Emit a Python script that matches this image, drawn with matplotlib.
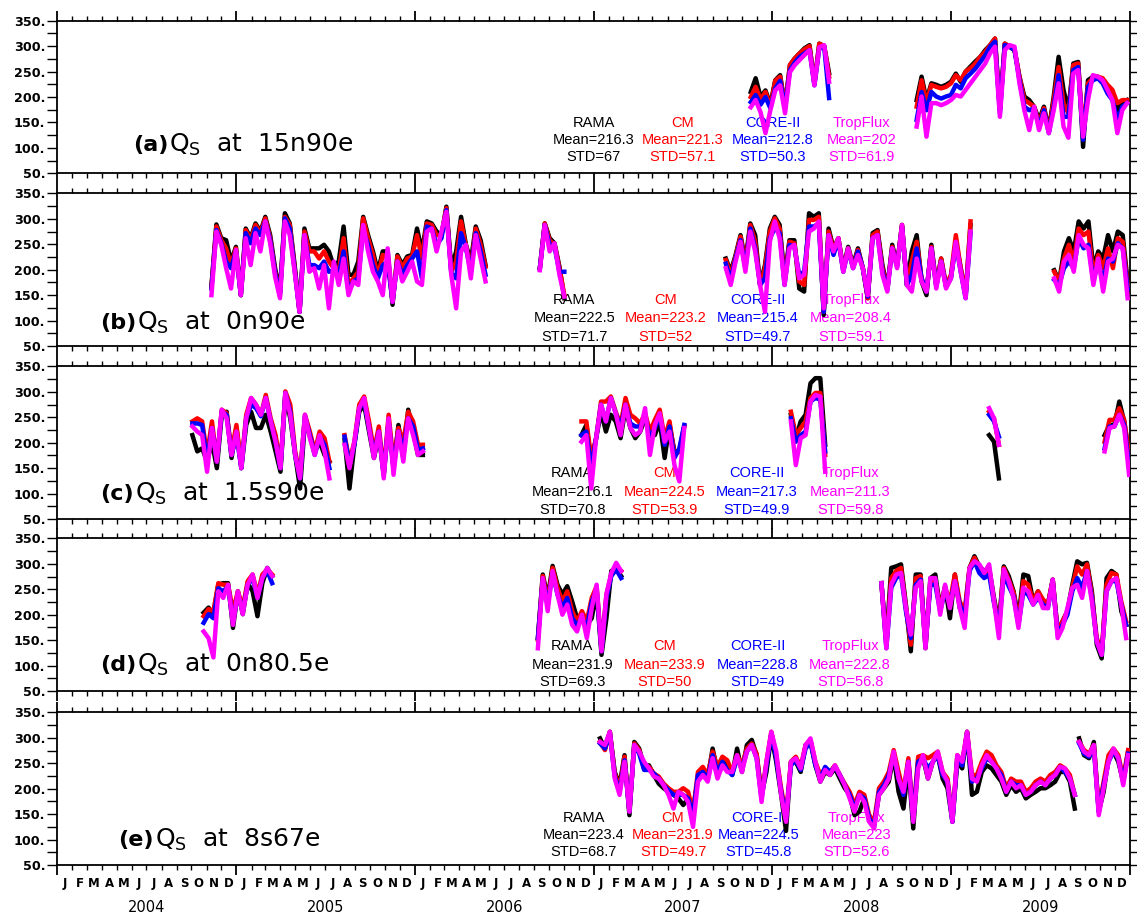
import matplotlib
matplotlib.use('Agg')
import matplotlib.pyplot as plt
import matplotlib.dates as mdates
from matplotlib.ticker import FixedLocator, FuncFormatter
import pandas as pd

# ---- data (10-day samples, W m-2) ----
SERIES = ['RAMA', 'CM', 'CORE-II', 'TropFlux']
COLORS = ['black', 'red', 'blue', 'magenta']

# (a) 15n90e
A1_START = '2007-11-18'
A1_RAMA = [210, 237, 200, 213, 185, 233, 243, 181, 263, 276, 286, 296, 302, 227, 305, 300, 247]
A1_CM = [200, 220, 195, 210, 180, 232, 240, 181, 263, 276, 286, 294, 300, 227, 305, 300, 240]
A1_CORE = [190, 204, 185, 200, 178, 217, 232, 178, 253, 268, 279, 286, 292, 223, 296, 299, 198]
A1_TROP = [180, 194, 170, 129, 174, 213, 223, 168, 249, 263, 273, 283, 292, 223, 298, 302, 230]
A2_START = '2008-10-22'
A2_RAMA = [194, 240, 194, 227, 224, 220, 224, 230, 246, 230, 250, 260, 270, 279, 292, 302, 315, 174, 305, 299, 292, 240,
           201, 194, 181, 155, 181, 135, 201, 279, 214, 174, 266, 269, 102, 233, 240, 240, 233, 220, 207, 174, 188, 194]
A2_CM = [181, 233, 188, 224, 220, 217, 220, 227, 243, 233, 250, 257, 266, 279, 289, 302, 315, 174, 305, 299, 292, 240,
         194, 188, 181, 148, 178, 132, 194, 259, 188, 168, 263, 266, 129, 227, 237, 240, 237, 224, 214, 188, 194, 194]
A2_CORE = [155, 210, 174, 210, 201, 197, 201, 204, 224, 217, 237, 246, 256, 269, 282, 299, 309, 168, 302, 299, 292, 233,
           181, 174, 178, 142, 174, 129, 181, 243, 161, 161, 253, 259, 116, 220, 233, 237, 227, 207, 194, 155, 181, 188]
A2_TROP = [142, 201, 122, 188, 188, 184, 188, 194, 204, 201, 214, 227, 240, 253, 266, 286, 299, 161, 292, 302, 299, 227,
           174, 135, 181, 135, 168, 129, 174, 227, 142, 120, 246, 253, 122, 194, 243, 240, 233, 214, 194, 129, 174, 188]
A_MEAN = [216.3, 221.3, 212.8, 202]
A_STD = [67, 57.1, 50.3, 61.9]

# (b) 0n90e
B1_START = '2004-11-11'
B1_RAMA = [167, 289, 262, 258, 216, 245, 150, 281, 262, 291, 275, 304, 268, 203, 157, 311, 291, 209, 117, 281, 242, 242,
           242, 249, 236, 206, 216, 285, 190, 190, 216, 304, 268, 236, 196, 236, 236, 131, 229, 209, 226, 229, 281, 236,
           295, 291, 275, 268, 324, 203, 236, 304, 249, 216, 285, 258, 209]
B1_CM = [167, 285, 258, 242, 209, 242, 150, 278, 258, 288, 272, 301, 262, 196, 153, 304, 288, 203, 117, 275, 236, 236,
         222, 236, 216, 203, 196, 262, 170, 183, 196, 301, 262, 229, 186, 229, 222, 137, 226, 203, 222, 226, 268, 222,
         291, 288, 268, 268, 321, 196, 216, 295, 245, 203, 281, 249, 206]
B1_CORE = [163, 278, 252, 216, 203, 236, 150, 272, 252, 281, 268, 295, 258, 193, 150, 301, 281, 199, 117, 268, 209, 209,
           203, 216, 196, 199, 190, 236, 157, 177, 183, 278, 249, 209, 183, 209, 216, 137, 216, 190, 209, 222, 236, 183,
           285, 281, 249, 262, 317, 193, 183, 272, 242, 196, 272, 236, 190]
B1_TROP = [150, 275, 249, 203, 163, 239, 150, 262, 209, 272, 236, 295, 252, 186, 144, 295, 268, 196, 117, 268, 196, 203,
           163, 209, 124, 216, 170, 222, 150, 177, 170, 288, 236, 196, 177, 150, 242, 137, 216, 177, 196, 216, 177, 170,
           275, 281, 236, 275, 314, 190, 124, 236, 249, 183, 268, 222, 177]
B2_START = '2006-09-13'
B2_RAMA = [203, 291, 262, 252, 206, 144]
B2_CM = [203, 291, 258, 249, 203, 150]
B2_CORE = [203, 288, 249, 245, 196, 196]
B2_TROP = [199, 288, 236, 252, 190, 147]
B3_START = '2007-09-28'
B3_RAMA = [222, 196, 229, 268, 216, 291, 268, 170, 209, 281, 304, 288, 183, 258, 258, 163, 157, 311, 304, 311, 111, 281,
           242, 262, 203, 245, 209, 242, 203, 144, 272, 278, 209, 163, 249, 209, 288, 170, 236, 268, 177, 150, 249, 170,
           222, 167, 186, 255, 203, 150, 288]
B3_CM = [219, 190, 226, 265, 212, 288, 255, 170, 203, 275, 301, 281, 177, 255, 252, 177, 170, 298, 298, 304, 117, 275,
         239, 262, 199, 242, 206, 239, 203, 144, 268, 275, 203, 163, 245, 209, 288, 170, 216, 255, 183, 157, 245, 170,
         222, 170, 190, 268, 203, 150, 295]
B3_CORE = [212, 180, 222, 258, 203, 281, 242, 170, 183, 262, 281, 272, 170, 249, 245, 190, 196, 285, 285, 291, 117, 268,
           229, 258, 196, 239, 203, 236, 203, 147, 262, 268, 196, 160, 242, 206, 285, 170, 190, 242, 183, 157, 242, 167,
           216, 167, 183, 252, 196, 144, 272]
B3_TROP = [203, 170, 216, 255, 196, 275, 236, 170, 117, 255, 295, 262, 170, 242, 249, 183, 190, 275, 281, 295, 124, 268,
           236, 262, 196, 242, 203, 229, 203, 150, 262, 268, 190, 157, 242, 203, 288, 170, 157, 222, 177, 157, 242, 163,
           216, 163, 183, 255, 196, 144, 275]
B4_START = '2009-07-30'
B4_RAMA = [199, 177, 236, 262, 236, 295, 281, 295, 203, 236, 222, 268, 236, 275, 268, 177]
B4_CM = [196, 177, 222, 249, 216, 281, 268, 275, 190, 229, 203, 242, 203, 262, 255, 170]
B4_CORE = [180, 170, 203, 216, 203, 262, 242, 249, 177, 216, 177, 222, 216, 252, 242, 163]
B4_TROP = [183, 157, 216, 229, 196, 268, 249, 242, 170, 222, 157, 216, 222, 249, 242, 144]
B_MEAN = [222.5, 223.2, 215.4, 208.4]
B_STD = [71.7, 52, 49.7, 59.1]

# (c) 1.5s90e
C1_START = '2004-10-03'
C1_RAMA = [215, 183, 189, 163, 202, 150, 255, 261, 170, 229, 150, 235, 261, 229, 229, 255, 222, 183, 143, 294, 248, 176,
           110, 242, 215, 183, 202, 176, 163]
C1_CM = [242, 248, 242, 176, 242, 163, 265, 258, 183, 235, 156, 255, 288, 275, 255, 294, 248, 215, 156, 301, 275, 183,
         137, 255, 222, 183, 222, 209, 163]
C1_CORE = [238, 238, 235, 163, 229, 163, 261, 255, 176, 215, 150, 248, 275, 268, 252, 288, 242, 202, 150, 298, 261, 176,
           130, 252, 215, 176, 212, 196, 150]
C1_TROP = [232, 222, 215, 143, 229, 163, 265, 248, 176, 222, 150, 248, 288, 275, 255, 288, 242, 202, 150, 298, 255, 176,
           130, 255, 209, 176, 215, 183, 130]
C2_START = '2005-08-10'
C2_RAMA = [206, 110, 196, 261, 275, 222, 170, 215, 137, 242, 150, 235, 170, 265, 222, 176, 176]
C2_CM = [215, 163, 202, 275, 291, 242, 183, 232, 143, 255, 163, 229, 202, 261, 242, 196, 196]
C2_CORE = [212, 156, 196, 268, 281, 229, 176, 222, 137, 242, 150, 222, 183, 248, 232, 186, 189]
C2_TROP = [196, 150, 202, 268, 288, 229, 170, 222, 130, 248, 137, 222, 163, 248, 215, 176, 183]
C3_START = '2006-12-07'
C3_RAMA = [215, 235, 163, 209, 261, 222, 255, 242, 209, 268, 229, 209, 222, 248, 215, 215, 242, 170, 235, 183, 183, 232]
C3_CM = [242, 242, 170, 209, 281, 281, 291, 261, 235, 288, 255, 248, 238, 258, 222, 245, 265, 209, 242, 176, 183, 232]
C3_CORE = [215, 222, 150, 209, 275, 242, 288, 258, 229, 275, 238, 232, 232, 252, 209, 229, 252, 196, 232, 170, 189, 235]
C3_TROP = [202, 215, 110, 209, 275, 242, 288, 258, 215, 275, 229, 215, 222, 268, 176, 235, 258, 202, 222, 156, 124, 229]
C4_START = '2008-02-08'
C4_RAMA = [255, 209, 242, 255, 317, 327, 327, 196]
C4_CM = [261, 215, 229, 242, 288, 298, 298, 176]
C4_CORE = [248, 202, 215, 222, 281, 288, 285, 183]
C4_TROP = [242, 156, 209, 215, 281, 294, 291, 143]
C5_START = '2009-03-19'
C5_RAMA = [215, 202, 130]
C5_CM = [261, 248, 196]
C5_CORE = [255, 242, 212]
C5_TROP = [268, 248, 196]
C6_START = '2009-11-10'
C6_RAMA = [215, 235, 235, 281, 242, 176]
C6_CM = [202, 245, 245, 268, 245, 176]
C6_CORE = [189, 232, 232, 255, 235, 156]
C6_TROP = [183, 229, 232, 255, 229, 137]
C_MEAN = [216.1, 224.5, 217.3, 211.3]
C_STD = [70.8, 53.9, 49.9, 59.8]

# (d) 0n80.5e
D1_START = '2004-10-26'
D1_RAMA = [204, 214, 201, 259, 262, 262, 174, 246, 201, 262, 246, 197, 262, 292, 276]
D1_CM = [197, 211, 207, 262, 259, 259, 207, 246, 214, 266, 279, 240, 279, 289, 279]
D1_CORE = [184, 201, 193, 252, 246, 256, 187, 240, 207, 259, 272, 233, 272, 286, 262]
D1_TROP = [167, 154, 116, 246, 233, 259, 180, 246, 201, 259, 279, 233, 272, 292, 276]
D2_START = '2006-09-09'
D2_RAMA = [154, 279, 233, 296, 259, 240, 256, 226, 193, 187, 180, 193, 246, 121, 193, 286, 289, 276]
D2_CM = [151, 276, 226, 292, 253, 226, 246, 207, 187, 207, 187, 233, 256, 134, 240, 279, 292, 286]
D2_CORE = [154, 269, 220, 282, 240, 213, 233, 193, 180, 193, 174, 226, 249, 128, 233, 276, 289, 272]
D2_TROP = [134, 272, 207, 286, 240, 200, 220, 180, 167, 200, 154, 213, 259, 128, 240, 282, 302, 286]
D3_START = '2008-08-11'
D3_RAMA = [262, 147, 292, 295, 299, 220, 128, 279, 279, 134, 272, 279, 213, 256, 193, 279, 213, 200, 292, 315, 295, 286,
           292, 233, 180, 295, 276, 246, 193, 279, 276, 226, 246, 226, 220, 269, 167, 187, 207, 259, 305, 299, 302, 246,
           141, 114, 272, 286, 279, 207, 180]
D3_CM = [262, 141, 272, 286, 292, 213, 141, 272, 276, 141, 266, 266, 213, 253, 226, 279, 226, 207, 292, 312, 292, 282,
         289, 226, 180, 292, 269, 243, 187, 266, 259, 226, 246, 230, 220, 269, 167, 187, 207, 253, 295, 279, 299, 239,
         154, 128, 259, 282, 279, 226, 187]
D3_CORE = [262, 134, 253, 272, 279, 207, 154, 259, 269, 141, 259, 259, 207, 246, 220, 266, 220, 193, 286, 305, 282, 272,
           279, 223, 174, 279, 256, 236, 180, 246, 239, 220, 233, 220, 213, 266, 161, 180, 200, 246, 272, 253, 286, 233,
           147, 121, 246, 266, 266, 220, 180]
D3_TROP = [262, 134, 259, 279, 282, 213, 161, 253, 266, 134, 272, 272, 200, 259, 213, 266, 213, 174, 292, 305, 299, 282,
           299, 226, 154, 289, 266, 233, 174, 253, 246, 220, 239, 213, 213, 269, 154, 174, 213, 253, 259, 233, 286, 226,
           147, 121, 246, 266, 272, 220, 154]
D_MEAN = [231.9, 233.9, 228.8, 222.8]
D_STD = [69.3, 50, 49, 56.8]

# (e) 8s67e
E1_START = '2007-01-14'
E1_RAMA = [299, 279, 312, 233, 207, 266, 148, 292, 279, 243, 246, 227, 210, 201, 194, 188, 181, 168, 181, 155, 220, 233,
           220, 279, 233, 253, 246, 227, 279, 233, 286, 296, 266, 188, 233, 305, 253, 188, 117, 253, 253, 233, 286, 292,
           246, 214, 233, 227, 240, 220, 201, 188, 148, 155, 181, 142, 129, 188, 201, 214, 266, 194, 161, 246, 122, 253,
           260, 220, 253, 266, 220, 201, 135, 253, 240, 312, 188, 194, 233, 246, 240, 227, 214, 188, 207, 194, 201, 181,
           188, 194, 201, 201, 207, 214, 233, 233, 214, 161]
E1_CM = [292, 276, 312, 230, 201, 263, 155, 289, 276, 240, 243, 230, 224, 210, 201, 194, 194, 201, 194, 155, 233, 243,
         227, 273, 243, 263, 256, 233, 266, 246, 279, 289, 269, 188, 253, 312, 266, 201, 148, 253, 263, 243, 286, 296,
         253, 227, 240, 233, 246, 227, 210, 194, 168, 194, 188, 148, 135, 201, 214, 233, 276, 233, 194, 260, 148, 263,
         266, 260, 266, 273, 233, 220, 142, 266, 253, 312, 227, 227, 253, 273, 266, 246, 233, 201, 220, 214, 214, 194,
         201, 214, 220, 214, 227, 233, 246, 240, 227, 188]
E1_CORE = [289, 279, 309, 224, 194, 256, 155, 286, 269, 237, 237, 230, 220, 207, 197, 188, 188, 188, 181, 148, 227, 233,
           220, 266, 233, 253, 237, 227, 260, 240, 273, 286, 260, 181, 246, 309, 260, 194, 142, 246, 256, 237, 279, 292,
           246, 220, 243, 233, 243, 227, 207, 188, 161, 188, 181, 142, 125, 194, 207, 227, 266, 220, 188, 253, 142, 253,
           260, 240, 253, 266, 227, 214, 135, 260, 246, 309, 214, 220, 240, 260, 253, 240, 227, 194, 214, 207, 207, 188,
           194, 207, 214, 207, 220, 227, 243, 233, 220, 188]
E1_TROP = [292, 286, 312, 220, 188, 253, 155, 286, 273, 253, 240, 224, 220, 207, 188, 161, 194, 188, 174, 125, 214, 227,
           214, 260, 220, 246, 233, 233, 266, 233, 273, 286, 260, 174, 253, 312, 273, 188, 135, 253, 260, 240, 286, 299,
           253, 214, 237, 227, 246, 227, 207, 181, 155, 188, 174, 135, 122, 188, 201, 220, 273, 220, 194, 253, 135, 240,
           266, 220, 253, 273, 233, 214, 135, 266, 253, 312, 220, 214, 246, 266, 253, 240, 220, 194, 214, 201, 207, 188,
           194, 207, 214, 207, 220, 227, 243, 240, 220, 188]
E2_START = '2009-09-19'
E2_RAMA = [299, 266, 260, 292, 155, 194, 260, 273, 253, 214, 273]
E2_CM = [292, 276, 269, 286, 161, 214, 266, 279, 266, 220, 276]
E2_CORE = [289, 269, 263, 279, 155, 207, 253, 273, 260, 214, 269]
E2_TROP = [292, 273, 266, 286, 148, 201, 253, 279, 260, 207, 266]
E_MEAN = [223.4, 231.9, 224.5, 223]
E_STD = [68.7, 49.7, 45.8, 52.6]

MONTHS = ['J', 'F', 'M', 'A', 'M', 'J', 'J', 'A', 'S', 'O', 'N', 'D']
YEARS = [2004, 2005, 2006, 2007, 2008, 2009]

panels = [
    ('(a)', '15n90e', [(A1_START, A1_RAMA, A1_CM, A1_CORE, A1_TROP),
                       (A2_START, A2_RAMA, A2_CM, A2_CORE, A2_TROP)], A_MEAN, A_STD),
    ('(b)', '0n90e', [(B1_START, B1_RAMA, B1_CM, B1_CORE, B1_TROP),
                      (B2_START, B2_RAMA, B2_CM, B2_CORE, B2_TROP),
                      (B3_START, B3_RAMA, B3_CM, B3_CORE, B3_TROP),
                      (B4_START, B4_RAMA, B4_CM, B4_CORE, B4_TROP)], B_MEAN, B_STD),
    ('(c)', '1.5s90e', [(C1_START, C1_RAMA, C1_CM, C1_CORE, C1_TROP),
                        (C2_START, C2_RAMA, C2_CM, C2_CORE, C2_TROP),
                        (C3_START, C3_RAMA, C3_CM, C3_CORE, C3_TROP),
                        (C4_START, C4_RAMA, C4_CM, C4_CORE, C4_TROP),
                        (C5_START, C5_RAMA, C5_CM, C5_CORE, C5_TROP),
                        (C6_START, C6_RAMA, C6_CM, C6_CORE, C6_TROP)], C_MEAN, C_STD),
    ('(d)', '0n80.5e', [(D1_START, D1_RAMA, D1_CM, D1_CORE, D1_TROP),
                        (D2_START, D2_RAMA, D2_CM, D2_CORE, D2_TROP),
                        (D3_START, D3_RAMA, D3_CM, D3_CORE, D3_TROP)], D_MEAN, D_STD),
    ('(e)', '8s67e', [(E1_START, E1_RAMA, E1_CM, E1_CORE, E1_TROP),
                      (E2_START, E2_RAMA, E2_CM, E2_CORE, E2_TROP)], E_MEAN, E_STD),
]

# layout (figure fractions / axes fractions)
bottoms = [0.8112, 0.6231, 0.4346, 0.2473, 0.0577]
label_pos = [(0.0706, 0.185), (0.040, 0.150), (0.040, 0.163), (0.040, 0.170), (0.057, 0.164)]
stat_x = [[0.500, 0.583, 0.667, 0.750],
          [0.482, 0.567, 0.653, 0.740],
          [0.480, 0.566, 0.652, 0.739],
          [0.480, 0.566, 0.653, 0.739],
          [0.491, 0.574, 0.654, 0.745]]
stat_y = [(0.332, 0.218, 0.105), (0.302, 0.182, 0.061), (0.305, 0.179, 0.059),
          (0.292, 0.171, 0.057), (0.306, 0.196, 0.087)]

fig = plt.figure(figsize=(11.37, 9.18), dpi=100)
t0, t1 = pd.Timestamp('2004-01-01'), pd.Timestamp('2010-01-01')

for i, (tag, site, segments, means, stds) in enumerate(panels):
    ax = fig.add_axes([0.0504, bottoms[i], 0.9435, 0.1662])
    for start, *vals in segments:
        x = pd.date_range(start, periods=len(vals[0]), freq='10D')
        for v, c in zip(vals, COLORS):
            ax.plot(x, v, color=c, lw=3.2, solid_joinstyle='round', zorder=3)

    ax.set_xlim(t0, t1)
    ax.set_ylim(50, 350)
    ax.xaxis.set_major_locator(mdates.YearLocator())
    ax.xaxis.set_minor_locator(mdates.MonthLocator())
    ax.yaxis.set_major_locator(FixedLocator(range(50, 351, 50)))
    ax.yaxis.set_minor_locator(FixedLocator(range(75, 350, 50)))
    ax.yaxis.set_major_formatter(FuncFormatter(lambda v, p: f'{v:.0f}.'))
    ax.tick_params(axis='x', which='both', direction='out', top=True, bottom=True, labelbottom=False)
    ax.tick_params(axis='x', which='major', length=7.2, width=1.3)
    ax.tick_params(axis='x', which='minor', length=3.6, width=1.0)
    ax.tick_params(axis='y', which='both', direction='out', left=True, right=True, width=1.0)
    ax.tick_params(axis='y', which='major', length=7.2, labelsize=9.2, pad=1.5)
    ax.tick_params(axis='y', which='minor', length=7.2)
    for lab in ax.get_yticklabels():
        lab.set_fontweight('bold')
    for sp in ax.spines.values():
        sp.set_linewidth(1.3)

    lx, ly = label_pos[i]
    t = ax.text(lx, ly, tag, transform=ax.transAxes, fontsize=16, fontweight='bold',
                va='center', ha='left', zorder=1)
    ax.annotate(r'Q$_\mathregular{S}$  at  ' + site, xy=(1, 0.5), xycoords=t, xytext=(0.5, 0),
                textcoords='offset points', va='center', ha='left', fontsize=18, zorder=1)

    for j, name in enumerate(SERIES):
        for txt, yy in zip([name, f'Mean={means[j]:g}', f'STD={stds[j]:g}'], stat_y[i]):
            ax.text(stat_x[i][j], yy, txt, transform=ax.transAxes, color=COLORS[j],
                    fontfamily='Liberation Sans', fontsize=10.5, ha='center', va='center', zorder=1)

# month and year labels under the bottom panel
for yr in YEARS:
    for m, ml in enumerate(MONTHS):
        mid = pd.Timestamp(yr, m + 1, 1) + pd.Timedelta(days=15)
        ax.text(mid, -0.118, ml, transform=ax.get_xaxis_transform(), ha='center', va='center',
                fontsize=8.5, fontweight='bold')
    ax.text(pd.Timestamp(yr, 7, 2), -0.28, str(yr), transform=ax.get_xaxis_transform(),
            ha='center', va='center', fontsize=10.5)

fig.savefig('out.png', dpi=100)
